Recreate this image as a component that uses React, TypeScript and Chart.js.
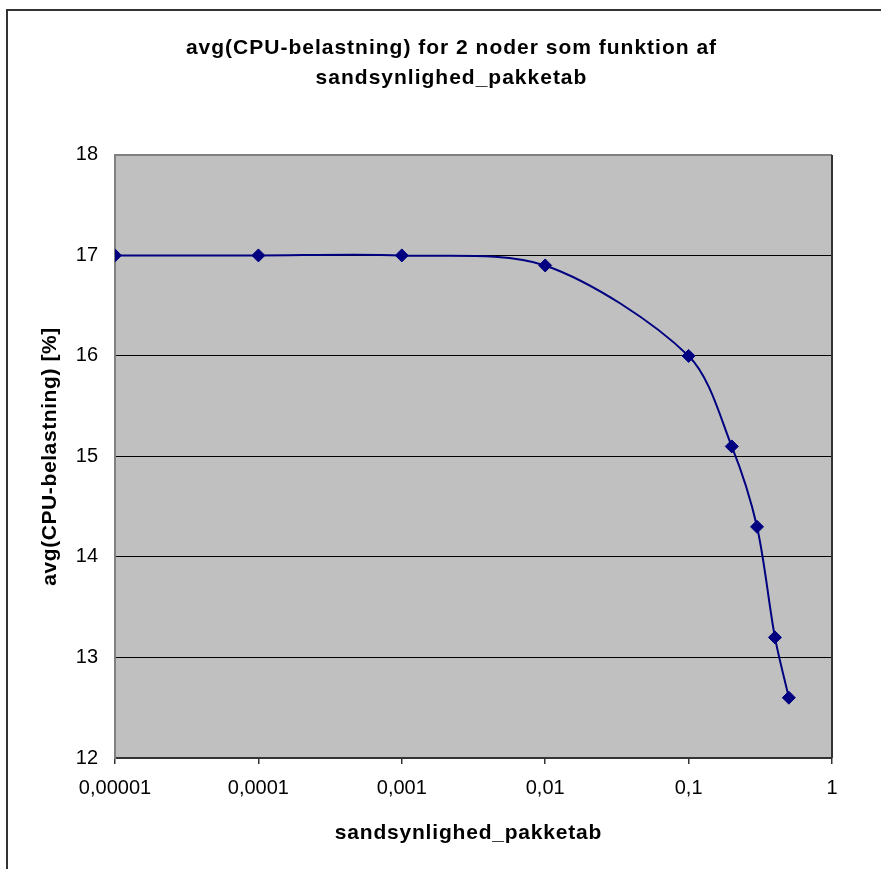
import React, { useEffect, useRef } from "react";
import { Chart, registerables } from "chart.js";

Chart.register(...registerables);

const xValues = [0.00001, 0.0001, 0.001, 0.01, 0.1, 0.2, 0.3, 0.4, 0.5];
const yValues = [17, 17, 17, 16.9, 16.0, 15.1, 14.3, 13.2, 12.6];
const xTickValues = [0.00001, 0.0001, 0.001, 0.01, 0.1, 1];
const xTickLabels = ["0,00001", "0,0001", "0,001", "0,01", "0,1", "1"];
const titleLines = ["avg(CPU-belastning) for 2 noder som funktion af", "sandsynlighed_pakketab"];
const xTitle = "sandsynlighed_pakketab";
const yTitle = "avg(CPU-belastning) [%]";

const FONT = "'Liberation Sans', Arial, sans-serif";

function withSpacing(obj: any, method: string, ctx: any, spacing: string, dx: number) {
  if (!obj || obj["__patched_" + method]) return;
  const orig = obj[method];
  obj[method] = function (...args: any[]) {
    ctx.save();
    try {
      (ctx as any).letterSpacing = spacing;
    } catch (e) {}
    ctx.translate(dx, 0);
    const r = orig.apply(this, args);
    ctx.restore();
    return r;
  };
  obj["__patched_" + method] = true;
}

const framePlugin = {
  id: "framePlugin",
  afterLayout(chart: any) {
    const ctx = chart.ctx;
    withSpacing(chart.scales.x, "drawTitle", ctx, "0.8px", -5);
    withSpacing(chart.scales.y, "drawTitle", ctx, "0.6px", 0);
    withSpacing(chart.titleBlock, "draw", ctx, "1px", 35.5);
  },
  beforeDraw(chart: any) {
    const { ctx, chartArea: a } = chart;
    ctx.save();
    ctx.fillStyle = "#ffffff";
    ctx.fillRect(0, 0, chart.width, chart.height);
    ctx.strokeStyle = "#333333";
    ctx.lineWidth = 2;
    ctx.strokeRect(7, 10, chart.width + 20, chart.height + 20);
    ctx.fillStyle = "#C0C0C0";
    ctx.fillRect(a.left, a.top, a.right - a.left, a.bottom - a.top);
    ctx.restore();
  },
  beforeDatasetsDraw(chart: any) {
    const { ctx, chartArea: a } = chart;
    ctx.save();
    ctx.strokeStyle = "#808080";
    ctx.lineWidth = 2;
    ctx.beginPath();
    ctx.moveTo(a.left, a.top);
    ctx.lineTo(a.right, a.top);
    ctx.stroke();
    ctx.strokeStyle = "#333333";
    ctx.beginPath();
    ctx.moveTo(a.right, a.top);
    ctx.lineTo(a.right, a.bottom);
    ctx.stroke();
    ctx.restore();
  },
};

export default function App() {
  const ref = useRef<HTMLCanvasElement | null>(null);
  useEffect(() => {
    if (!ref.current) return;
    const chart = new Chart(ref.current, {
      type: "line",
      data: {
        datasets: [
          {
            data: xValues.map((x, i) => ({ x, y: yValues[i] })),
            borderColor: "#000080",
            backgroundColor: "#000080",
            borderWidth: 2,
            tension: 0.3,
            pointStyle: "rectRot",
            pointRadius: 6.5,
            pointBorderWidth: 1,
            pointBackgroundColor: "#000080",
            pointBorderColor: "#000080",
            fill: false,
          },
        ],
      },
      options: {
        animation: false,
        responsive: false,
        layout: { padding: { left: 0, top: 0, right: 49, bottom: 0 } },
        plugins: {
          legend: { display: false },
          tooltip: { enabled: false },
          title: {
            display: true,
            text: titleLines,
            color: "#000",
            font: { family: FONT, size: 21, weight: "bold", lineHeight: 1.45 },
            padding: { top: 32.5, bottom: 61.5 },
          },
        },
        scales: {
          x: {
            type: "logarithmic",
            min: 0.00001,
            max: 1,
            afterBuildTicks: (s: any) => {
              s.ticks = xTickValues.map((v) => ({ value: v }));
            },
            afterFit: (s: any) => {
              s.height = 111;
            },
            ticks: {
              autoSkip: false,
              maxRotation: 0,
              color: "#000",
              font: { family: FONT, size: 20 },
              padding: 12,
              callback: (_v: any, i: number) => xTickLabels[i],
            },
            grid: {
              drawOnChartArea: false,
              drawTicks: true,
              tickLength: 6,
              color: "#333333",
              lineWidth: 1.5,
            },
            border: { display: true, color: "#333333", width: 2 },
            title: {
              display: true,
              text: xTitle,
              color: "#000",
              font: { family: FONT, size: 21, weight: "bold" },
              padding: { top: 0, bottom: 23.4 },
            },
          },
          y: {
            min: 12,
            max: 18,
            afterFit: (s: any) => {
              s.width = 115;
            },
            ticks: {
              stepSize: 1,
              color: "#000",
              font: { family: FONT, size: 20 },
              padding: 17,
            },
            grid: {
              drawTicks: false,
              color: (c: any) => (c.tick && (c.tick.value === 12 || c.tick.value === 18) ? "rgba(0,0,0,0)" : "#000000"),
              lineWidth: 1,
            },
            border: { display: true, color: "#808080", width: 2 },
            title: {
              display: true,
              text: yTitle,
              color: "#000",
              font: { family: FONT, size: 21, weight: "bold" },
              padding: { top: 37.4, bottom: 0 },
            },
          },
        },
      },
      plugins: [framePlugin],
    } as any);
    return () => chart.destroy();
  }, []);
  return (
    <div style={{ position: "fixed", left: 0, top: 0, width: 881, height: 869 }}>
      <canvas ref={ref} width={881} height={869} style={{ width: 881, height: 869, display: "block" }} />
    </div>
  );
}
